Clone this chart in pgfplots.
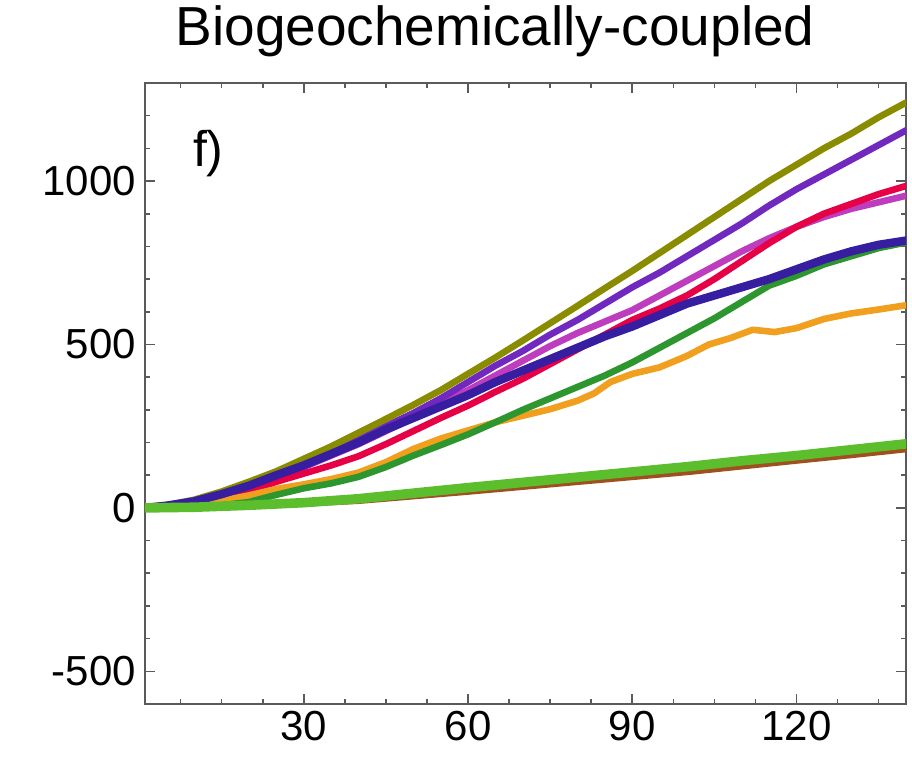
\documentclass[border=0pt]{standalone}
\usepackage{pgfplots}
\pgfplotsset{compat=1.18}
\usepackage{fontspec}
\setmainfont{Liberation Sans}
\definecolor{cOlive}{RGB}{138,140,0}
\definecolor{cPurple}{RGB}{112,40,190}
\definecolor{cMagenta}{RGB}{190,60,190}
\definecolor{cRed}{RGB}{230,0,70}
\definecolor{cBlue}{RGB}{55,30,160}
\definecolor{cGreen}{RGB}{46,150,46}
\definecolor{cOrange}{RGB}{240,160,30}
\definecolor{cLGreen}{RGB}{92,190,44}
\definecolor{cBrown}{RGB}{160,80,30}
\definecolor{axgray}{RGB}{90,90,90}
\begin{document}
\begin{tikzpicture}
\begin{axis}[
  scale only axis, width=380.5pt, height=310.5pt,
  xmin=1, xmax=140, ymin=-600, ymax=1300,
  xtick={30,60,90,120}, minor xtick={7.5,15,...,135},
  ytick={-500,0,500,1000}, minor ytick={-500,-400,...,1200},
  tick align=inside, major tick length=5pt, minor tick length=2.5pt,
  tick style={axgray, line width=0.8pt},
  axis line style={axgray, line width=1pt},
  /pgf/number format/assume math mode=true,
  /pgf/number format/1000 sep={},
  ticklabel style={font=\fontsize{21}{24}\selectfont},
  yticklabel style={xshift=-1pt},
  title={Biogeochemically-coupled},
  title style={font=\fontsize{27.5}{31}\selectfont, at={(0.46,1)}, anchor=base, yshift=12.5pt},
  every axis plot/.append style={line join=round, line cap=round},
  clip=true,
]
\addplot[cBrown, line width=3.3pt] coordinates {(1,0) (20,6) (40,22) (60,50) (80,80) (100,110) (120,145) (130,162) (140,180)};
\addplot[cMagenta, line width=3.3pt] coordinates {(1,0) (5,7) (10,20) (15,40) (20,62) (25,95) (30,125) (35,160) (40,195) (45,235) (50,275) (55,318) (60,360) (65,405) (70,450) (75,495) (80,535) (85,570) (90,605) (95,650) (100,695) (105,740) (110,785) (115,825) (120,860) (125,890) (130,915) (135,935) (140,955)};
\addplot[cRed, line width=3.3pt] coordinates {(1,0) (5,5) (10,15) (15,32) (20,50) (25,80) (30,105) (35,130) (40,158) (45,195) (50,235) (55,275) (60,313) (65,355) (70,395) (75,440) (80,485) (85,530) (90,575) (95,610) (100,650) (105,700) (110,755) (115,810) (120,860) (125,900) (130,930) (135,960) (140,985)};
\addplot[cPurple, line width=3.3pt] coordinates {(1,0) (5,8) (10,22) (15,45) (20,70) (25,105) (30,135) (35,170) (40,208) (45,250) (50,290) (55,335) (60,385) (65,435) (70,480) (75,530) (80,575) (85,625) (90,675) (95,720) (100,770) (105,820) (110,870) (115,925) (120,975) (125,1020) (130,1065) (135,1110) (140,1155)};
\addplot[cOlive, line width=3.3pt] coordinates {(1,0) (5,8) (10,25) (15,50) (20,80) (25,112) (30,150) (35,188) (40,230) (45,272) (50,315) (55,360) (60,410) (65,460) (70,512) (75,565) (80,618) (85,672) (90,725) (95,780) (100,835) (105,890) (110,945) (115,1000) (120,1050) (125,1100) (130,1145) (135,1195) (140,1240)};
\addplot[cOrange, line width=3.3pt] coordinates {(1,0) (5,3) (10,10) (15,22) (20,38) (25,58) (30,72) (35,88) (40,108) (45,140) (50,180) (55,212) (60,237) (65,262) (70,282) (75,302) (80,328) (83,350) (86,385) (90,410) (95,430) (100,465) (104,500) (108,520) (112,545) (116,538) (120,550) (125,578) (130,595) (135,607) (140,620)};
\addplot[cGreen, line width=3.3pt] coordinates {(1,0) (5,1) (10,3) (15,8) (20,18) (25,40) (30,60) (35,75) (40,95) (45,125) (50,160) (55,192) (60,225) (65,262) (70,300) (75,335) (80,370) (85,405) (90,445) (95,490) (100,535) (105,580) (110,630) (115,680) (120,710) (125,745) (130,770) (135,795) (140,812)};
\addplot[cBlue, line width=4.2pt] coordinates {(1,0) (5,7) (10,20) (15,42) (20,68) (25,100) (30,130) (35,165) (40,200) (45,240) (50,275) (55,310) (60,345) (65,385) (70,420) (75,455) (80,490) (85,525) (90,555) (95,590) (100,625) (105,650) (110,675) (115,700) (120,730) (125,760) (130,785) (135,805) (140,818)};
\addplot[cLGreen, line width=4.8pt] coordinates {(1,0) (10,2) (20,8) (30,16) (40,28) (50,45) (60,62) (70,78) (80,94) (90,110) (100,126) (110,144) (120,160) (130,178) (140,196)};
\node[anchor=base west, font=\fontsize{25}{28}\selectfont, inner sep=0pt] at (axis cs:9.7,1046) {f)};
\end{axis}
\pgfresetboundingbox
\path ([shift={(-72.5pt,-28.5pt)}]current axis.south west) rectangle ([shift={(3pt,41.5pt)}]current axis.north east);
\end{tikzpicture}
\end{document}
